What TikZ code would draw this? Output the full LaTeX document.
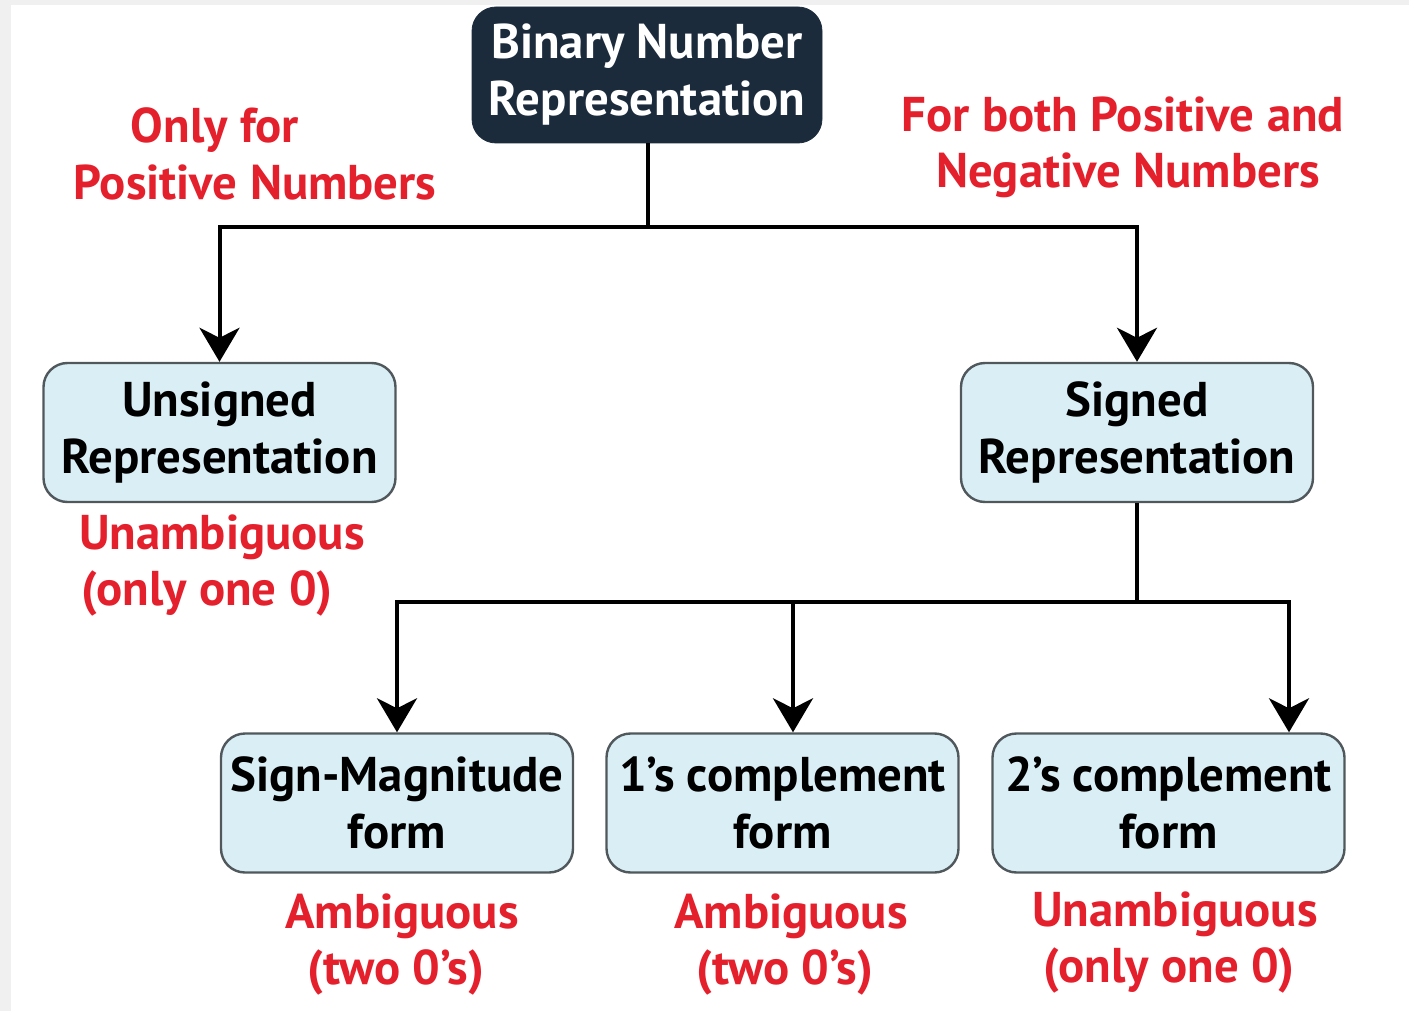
\documentclass[tikz,border=0pt]{standalone}
\usepackage{fontspec}
\setmainfont{PT Sans}
\usetikzlibrary{arrows.meta}
\definecolor{darkbox}{RGB}{28,43,60}
\definecolor{lightbox}{RGB}{217,238,245}
\definecolor{boxline}{RGB}{80,88,92}
\definecolor{redtxt}{RGB}{228,32,44}
\definecolor{bggrey}{RGB}{240,240,240}
\begin{document}
\begin{tikzpicture}[x=0.5pt,y=-0.5pt,
  boxtext/.style={font=\bfseries\fontsize{24.4}{28.5}\selectfont,align=center},
  topbox/.style={boxtext,draw=darkbox,fill=darkbox,text=white,rounded corners=12pt,minimum width=175pt,minimum height=68pt,inner sep=0pt},
  lbox/.style={boxtext,draw=boxline,line width=1.2pt,fill=lightbox,text=black,rounded corners=12pt,minimum width=176pt,minimum height=69.5pt,inner sep=0pt},
  redlbl/.style={font=\bfseries\fontsize{24.4}{28.5}\selectfont,text=redtxt,anchor=base,inner sep=0pt},
  conn/.style={line width=2pt,black},
  arr/.style={conn,-{Stealth[length=17pt,width=20pt,inset=5pt]}}]
\useasboundingbox (0,0) rectangle (1409,1011);
\fill[bggrey] (0,0) rectangle (1409,1011);
\fill[white] (11,5) rectangle (1409,1011);
% boxes
\node[topbox] (top) at (647,75) {Binary Number\\Representation};
\node[lbox] (uns) at (219.5,432.5) {Unsigned\\Representation};
\node[lbox] (sig) at (1137,432.5) {Signed\\Representation};
\node[lbox] (b1) at (397,803) {Sign-Magnitude\\form};
\node[lbox] (b2) at (782.5,803) {1’s complement\\form};
\node[lbox] (b3) at (1168.5,803) {2’s complement\\form};
% connectors
\coordinate (j1) at (648,227);
\coordinate (j2) at (1137,602);
\draw[conn] (top.south -| j1) -- (j1);
\draw[arr] (j1) -| (uns.north);
\draw[arr] (j1) -| (sig.north);
\draw[conn] (sig.south) -- (j2);
\draw[arr] (j2) -| (b1.north);
\draw[arr] (j2) -| ([xshift=5.25pt]b2.north);
\draw[arr] (j2) -| ([xshift=60.25pt]b3.north);
% red labels
\node[redlbl] (l1a) at (215,143) {Only for};
\node[redlbl] (l1b) at (255,199) {Positive Numbers};
\node[redlbl] (l2a) at (1123,132) {For both Positive and};
\node[redlbl] (l2b) at (1128,188) {Negative Numbers};
\node[redlbl] (l3a) at (222,549) {Unambiguous};
\node[redlbl] (l3b) at (207,605) {(only one 0)};
\node[redlbl] (l4a) at (402,928) {Ambiguous};
\node[redlbl] (l4b) at (396,984) {(two 0’s)};
\node[redlbl] (l5a) at (791,928) {Ambiguous};
\node[redlbl] (l5b) at (785,984) {(two 0’s)};
\node[redlbl] (l6a) at (1175,926) {Unambiguous};
\node[redlbl] (l6b) at (1169,982) {(only one 0)};
\end{tikzpicture}
\end{document}
